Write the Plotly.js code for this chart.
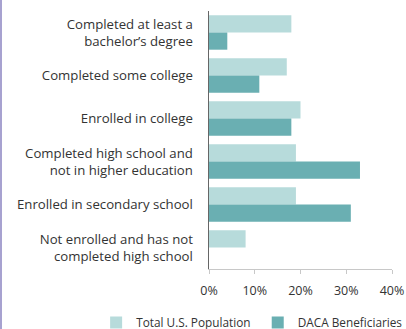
<!DOCTYPE html>
<html>
<head>
<meta charset="utf-8">
<script src="https://cdn.plot.ly/plotly-3.0.1.min.js"></script>
<style>
html,body{margin:0;padding:0;background:#fff;}
#chart{width:404px;height:329px;border-left:2px solid #a7a2d0;}
</style>
</head>
<body>
<div id="chart"></div>
<script>
var categories = [
  "Completed at least a<br>bachelor\u2019s degree",
  "Completed some college",
  "Enrolled in college",
  "Completed high school and<br>not in higher education",
  "Enrolled in secondary school",
  "Not enrolled and has not<br>completed high school"
];
var totalUS = [18, 17, 20, 19, 19, 8];
var daca = [4, 11, 18, 33, 31, 0];
var seriesNames = ["Total U.S. Population", "DACA Beneficiaries"];
var xTicks = [0, 10, 20, 30, 40];
var xTickLabels = ["0%", "10%", "20%", "30%", "40%"];

var font = {family: "Open Sans, Liberation Sans, sans-serif", size: 13.2, color: "#333"};
var legendFont = {family: font.family, size: 11.8, color: "#333"};

var data = [
  {type: "bar", orientation: "h", name: seriesNames[0], y: categories, x: totalUS,
   marker: {color: "#b7dbdb"}, hoverinfo: "none", legend: "legend"},
  {type: "bar", orientation: "h", name: seriesNames[1], y: categories, x: daca,
   marker: {color: "#6aafb2"}, hoverinfo: "none", legend: "legend2"}
];

var layout = {
  width: 404, height: 329,
  margin: {l: 207, r: 14, t: 11, b: 60},
  paper_bgcolor: "#fff", plot_bgcolor: "#fff",
  font: font,
  barmode: "group", bargap: 0.2, bargroupgap: 0,
  showlegend: true,
  legend: {orientation: "h", xref: "container", x: 0.233, xanchor: "left",
           yref: "container", y: 0.02, yanchor: "middle", font: legendFont,
           bgcolor: "rgba(0,0,0,0)"},
  legend2: {orientation: "h", xref: "container", x: 0.633, xanchor: "left",
           yref: "container", y: 0.02, yanchor: "middle", font: legendFont,
           bgcolor: "rgba(0,0,0,0)"},
  xaxis: {range: [0, 40], tickvals: xTicks, ticktext: xTickLabels,
          showgrid: false, zeroline: false, showline: true, linecolor: "#c8c8c8", linewidth: 1,
          ticks: "outside", ticklen: 4, tickcolor: "#c8c8c8", ticklabelstandoff: 6,
          tickfont: {family: font.family, size: 12.5, color: "#333"}, fixedrange: true},
  yaxis: {autorange: "reversed", showgrid: false, zeroline: false,
          showline: true, linecolor: "#666", linewidth: 1.5, ticks: "", ticklabelstandoff: 12,
          tickfont: font, fixedrange: true}
};

Plotly.newPlot("chart", data, layout, {displayModeBar: false, staticPlot: true});
</script>
</body>
</html>
